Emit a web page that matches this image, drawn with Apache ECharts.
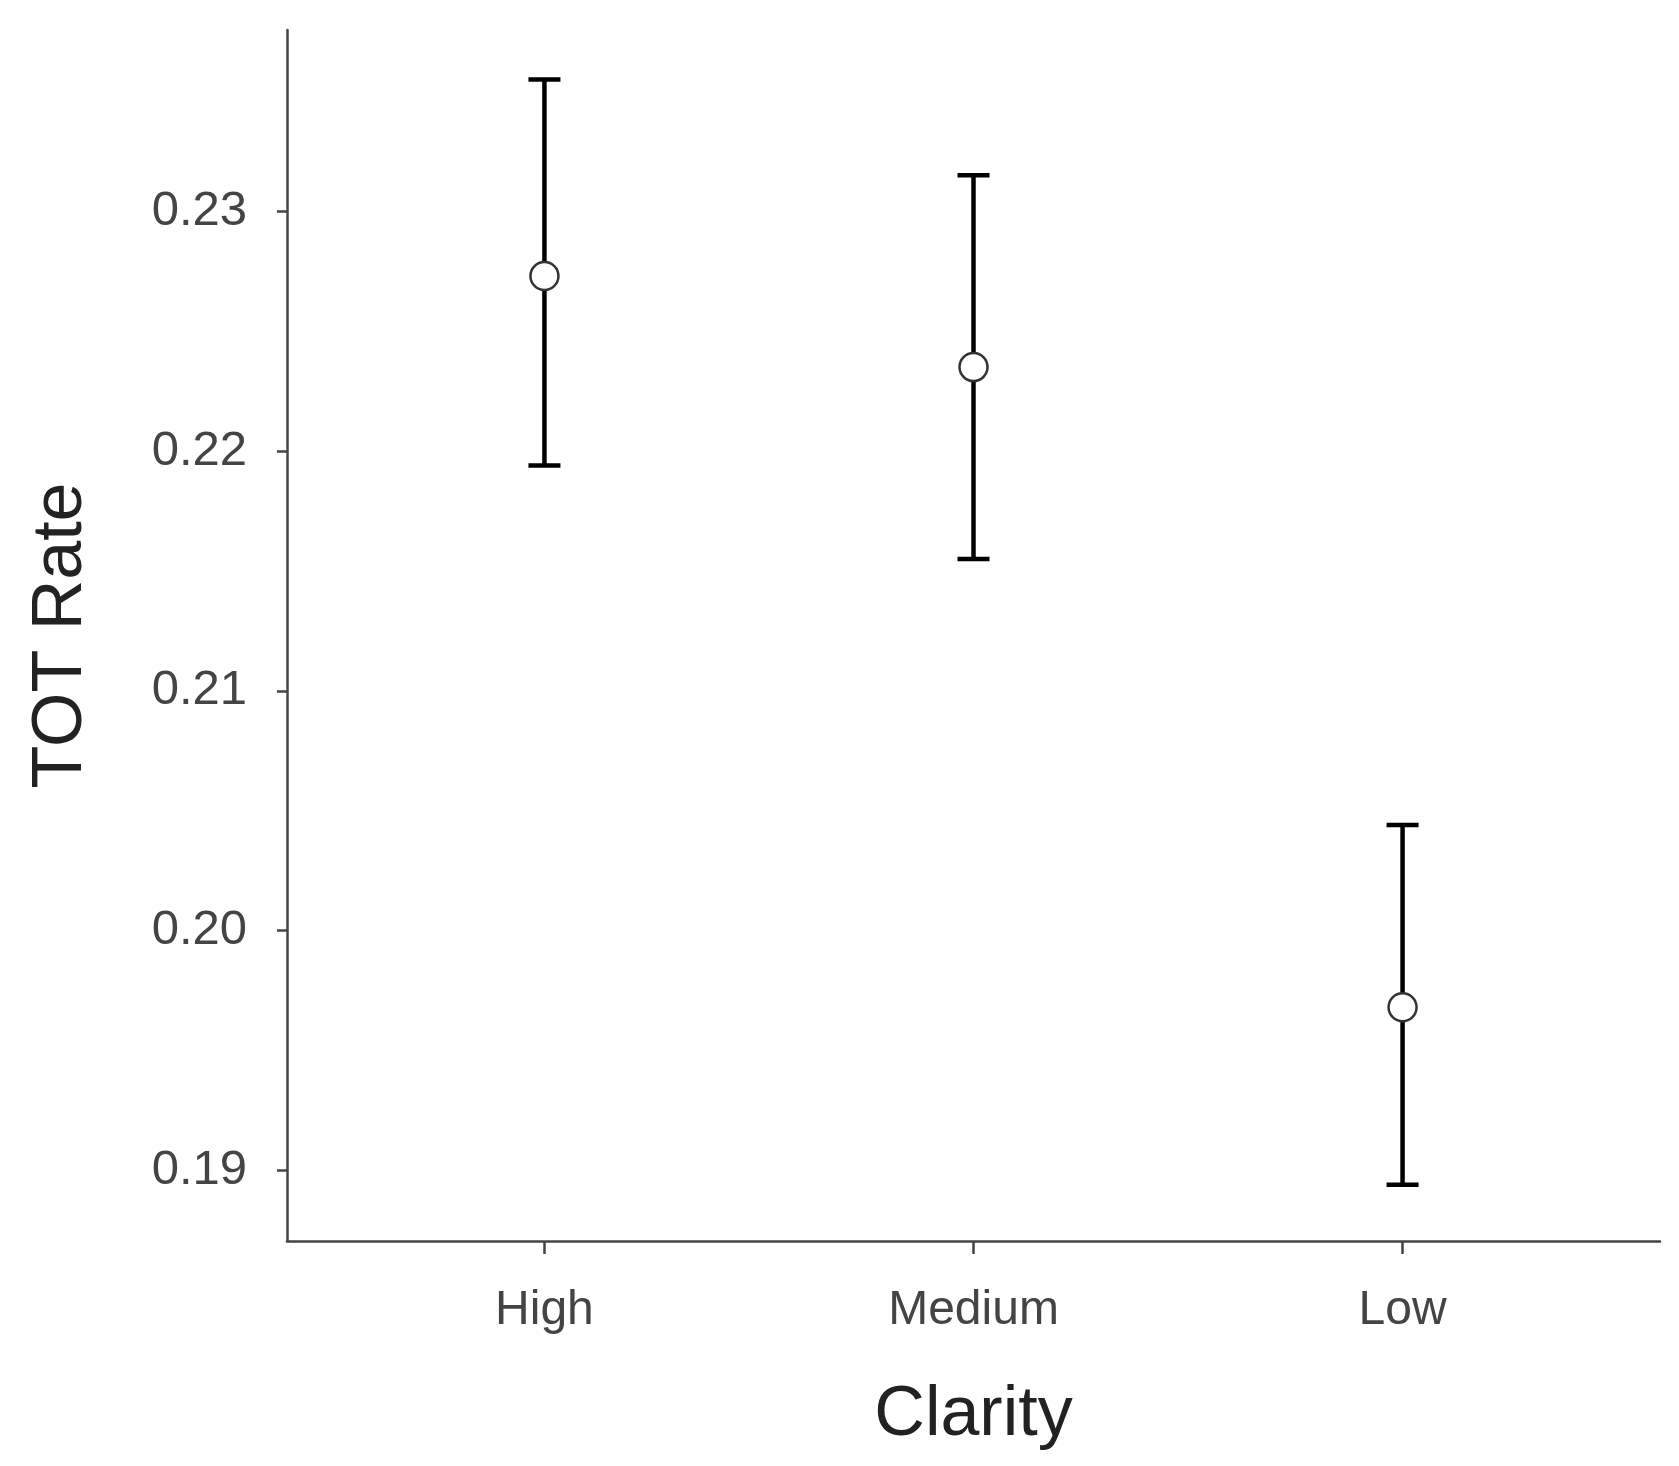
<!DOCTYPE html>
<html>
<head>
<meta charset="utf-8">
<script src="https://cdn.jsdelivr.net/npm/echarts@6/dist/echarts.min.js"></script>
<style>
html,body{margin:0;padding:0;background:#fff;}
#chart{width:1679px;height:1466px;}
</style>
</head>
<body>
<div id="chart"></div>
<script>
const categories = ['High', 'Medium', 'Low'];
const means = [0.2273, 0.2235, 0.1968];
const lower = [0.2194, 0.2155, 0.1894];
const upper = [0.2355, 0.2315, 0.2044];
const yTicks = [0.19, 0.20, 0.21, 0.22, 0.23];

const positions = categories.map((c, i) => i + 1);
const barData = positions.map((p, i) => [p, lower[i], upper[i]]);
const pointData = positions.map((p, i) => [p, means[i]]);

const chart = echarts.init(document.getElementById('chart'));
const font = 'Liberation Sans, Arial, sans-serif';
chart.setOption({
  animation: false,
  grid: {left: 287, right: 19, top: 30, bottom: 225},
  xAxis: {
    type: 'value', min: 0.4, max: 3.6,
    name: 'Clarity', nameLocation: 'middle', nameGap: 140,
    nameTextStyle: {fontSize: 70, color: '#222', fontFamily: font},
    axisLine: {show: true, lineStyle: {color: '#444', width: 2.5}},
    axisTick: {show: true, customValues: positions, length: 13, lineStyle: {color: '#444', width: 2.5}},
    axisLabel: {customValues: positions, margin: 46, fontSize: 48, color: '#444', fontFamily: font,
      formatter: v => categories[Math.round(v) - 1] || ''},
    splitLine: {show: false}
  },
  yAxis: {
    type: 'value', min: 0.18705, max: 0.23756,
    name: 'TOT Rate', nameLocation: 'middle', nameGap: 190,
    nameTextStyle: {fontSize: 70, color: '#222', fontFamily: font},
    axisLine: {show: true, lineStyle: {color: '#444', width: 2.5}},
    axisTick: {show: true, customValues: yTicks, length: 10, lineStyle: {color: '#444', width: 2.5}},
    axisLabel: {customValues: yTicks, margin: 40, fontSize: 49, color: '#444', fontFamily: font,
      formatter: v => v.toFixed(2)},
    splitLine: {show: false}
  },
  series: [
    {
      type: 'custom',
      data: barData,
      z: 2,
      renderItem: function (params, api) {
        const x = api.value(0);
        const lo = api.coord([x, api.value(1)]);
        const hi = api.coord([x, api.value(2)]);
        const hw = 16;
        const style = {stroke: '#000', lineWidth: 4.5};
        return {
          type: 'group',
          children: [
            {type: 'line', shape: {x1: lo[0], y1: lo[1], x2: hi[0], y2: hi[1]}, style: style},
            {type: 'line', shape: {x1: lo[0] - hw, y1: lo[1], x2: lo[0] + hw, y2: lo[1]}, style: style},
            {type: 'line', shape: {x1: hi[0] - hw, y1: hi[1], x2: hi[0] + hw, y2: hi[1]}, style: style}
          ]
        };
      }
    },
    {
      type: 'scatter',
      data: pointData,
      z: 3,
      symbol: 'circle',
      symbolSize: 28,
      itemStyle: {color: '#fff', borderColor: '#333', borderWidth: 2.5, opacity: 1}
    }
  ]
});
</script>
</body>
</html>
